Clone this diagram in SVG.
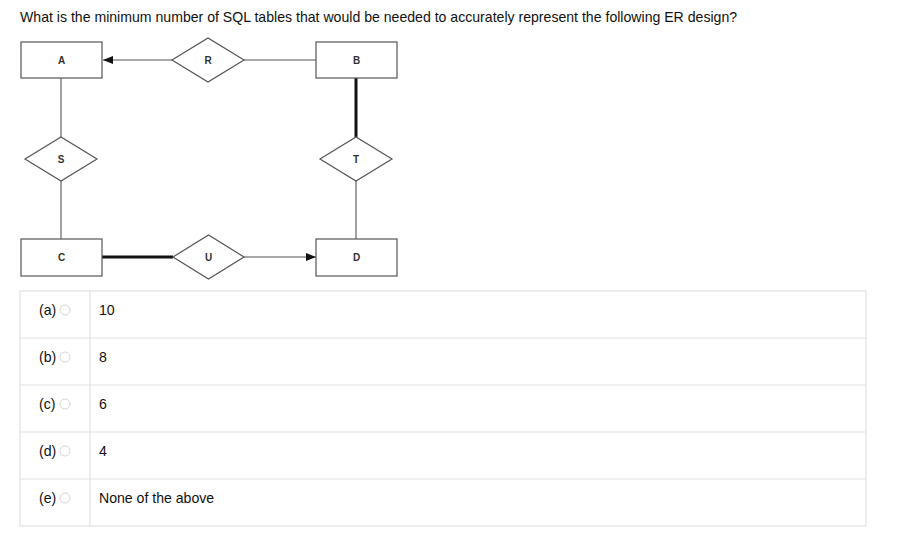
<svg xmlns="http://www.w3.org/2000/svg" width="922" height="542" viewBox="0 0 922 542">
<defs>
<marker id="arr" viewBox="0 0 10 10" refX="10" refY="5" markerWidth="10" markerHeight="10" markerUnits="userSpaceOnUse" orient="auto">
<path d="M0,1 L10,5 L0,9 Z" fill="#111"/>
</marker>
<style>
.ent{fill:#fff;stroke:#555;stroke-width:1.2}
.rel{fill:#fff;stroke:#555;stroke-width:1.2}
.lbl{font-family:"Liberation Sans",Arial,sans-serif;font-size:10px;font-weight:bold;fill:#333;text-anchor:middle;dominant-baseline:central}
.thin{stroke:#555;stroke-width:1.1;fill:none}
.thick{stroke:#111;stroke-width:3;fill:none}
.q{font-family:"Liberation Sans",Arial,sans-serif;font-size:14.1px;fill:#111}
.opt{font-family:"Liberation Sans",Arial,sans-serif;font-size:14.1px;fill:#111;dominant-baseline:central}
.grid{stroke:#e2e2e2;stroke-width:1.2;fill:none}
.radio{fill:#fff;stroke:#d6d6d6;stroke-width:1}
</style>
</defs>
<rect width="922" height="542" fill="#fff"/>
<text class="q" x="20" y="22">What is the minimum number of SQL tables that would be needed to accurately represent the following ER design?</text>

<g id="connectors">
<line class="thin" x1="172" y1="60" x2="103" y2="60" marker-end="url(#arr)"/>
<line class="thin" x1="244" y1="60" x2="316" y2="60"/>
<line class="thin" x1="61" y1="78" x2="61" y2="137"/>
<line class="thin" x1="61" y1="181" x2="61" y2="239"/>
<line class="thick" x1="356" y1="78" x2="356" y2="137"/>
<line class="thin" x1="356" y1="181" x2="356" y2="239"/>
<line class="thick" x1="102" y1="257" x2="173" y2="257"/>
<line class="thin" x1="244" y1="257" x2="316" y2="257" marker-end="url(#arr)"/>
</g>

<g id="A"><rect class="ent" x="21" y="42" width="81" height="36"/><text class="lbl" x="61.5" y="60">A</text></g>
<g id="B"><rect class="ent" x="316" y="42" width="81" height="36"/><text class="lbl" x="356.5" y="60">B</text></g>
<g id="C"><rect class="ent" x="21" y="239" width="81" height="37"/><text class="lbl" x="61.5" y="257.5">C</text></g>
<g id="D"><rect class="ent" x="316" y="239" width="81" height="37"/><text class="lbl" x="356.5" y="257.5">D</text></g>
<g id="R"><polygon class="rel" points="172,60 208,38 244,60 208,82"/><text class="lbl" x="208" y="60">R</text></g>
<g id="S"><polygon class="rel" points="25,159 61,137 97,159 61,181"/><text class="lbl" x="61" y="159">S</text></g>
<g id="T"><polygon class="rel" points="320,159 356,137 392,159 356,181"/><text class="lbl" x="356" y="159">T</text></g>
<g id="U"><polygon class="rel" points="173,257 208.5,235 244,257 208.5,279"/><text class="lbl" x="208.5" y="257">U</text></g>

<g id="options">
<rect class="grid" x="20" y="291" width="846" height="235"/>
<line class="grid" x1="20" y1="338" x2="866" y2="338"/>
<line class="grid" x1="20" y1="385" x2="866" y2="385"/>
<line class="grid" x1="20" y1="432" x2="866" y2="432"/>
<line class="grid" x1="20" y1="479" x2="866" y2="479"/>
<line class="grid" x1="90" y1="291" x2="90" y2="526"/>
<text class="opt" x="39" y="310">(a)</text><circle class="radio" cx="65" cy="310" r="5"/><text class="opt" x="99" y="310">10</text>
<text class="opt" x="39" y="357">(b)</text><circle class="radio" cx="65" cy="357" r="5"/><text class="opt" x="99" y="357">8</text>
<text class="opt" x="39" y="404">(c)</text><circle class="radio" cx="65" cy="404" r="5"/><text class="opt" x="99" y="404">6</text>
<text class="opt" x="39" y="451">(d)</text><circle class="radio" cx="65" cy="451" r="5"/><text class="opt" x="99" y="451">4</text>
<text class="opt" x="39" y="498">(e)</text><circle class="radio" cx="65" cy="498" r="5"/><text class="opt" x="99" y="498">None of the above</text>
</g>
</svg>
